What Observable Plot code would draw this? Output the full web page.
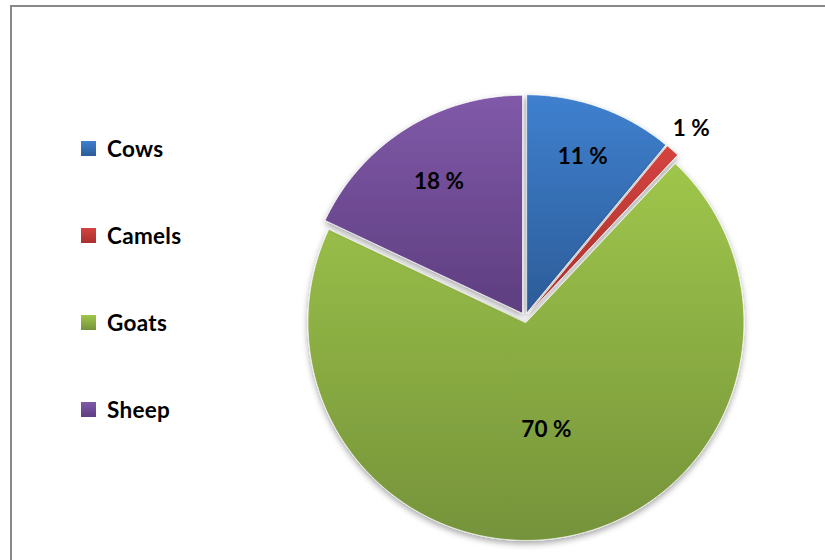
<!DOCTYPE html>
<html>
<head>
<meta charset="utf-8">
<script src="https://cdn.jsdelivr.net/npm/d3@7"></script>
<script src="https://cdn.jsdelivr.net/npm/@observablehq/plot@0.6"></script>
<style>
  body { margin: 0; background: #fff; }
  #wrap { position: relative; width: 825px; height: 560px; overflow: hidden; font-family: Lato, "Open Sans", sans-serif; }
  #frame { position: absolute; left: 10px; top: 5px; width: 900px; height: 700px; border-left: 2px solid #888; border-top: 2px solid #888; }
  #chart { position: absolute; left: 0; top: 0; }
  #legend { position: absolute; left: 81px; top: 141px; }
  .item { position: absolute; left: 0; height: 15px; white-space: nowrap; }
  .sw { position: absolute; left: 0; top: 0; width: 15px; height: 15px; }
  .lab { position: absolute; left: 26px; top: -6px; font-size: 22.5px; font-weight: bold; line-height: 28px; color: #000; letter-spacing: 0.3px; }
</style>
</head>
<body>
<div id="wrap">
  <div id="frame"></div>
  <div id="chart"></div>
  <div id="legend"></div>
</div>
<script>
// ---- data ----
const animals = ["Cows", "Camels", "Goats", "Sheep"];
const shares = [11, 1, 70, 18];
const colorTop = ["#3f80cf", "#d4443f", "#9fc64b", "#8059a8"];
const colorBottom = ["#2c5c98", "#a8302c", "#75933a", "#5e3e80"];

// ---- geometry ----
const total = d3.sum(shares);
const explode = 0.023;      // offset of each slice, as fraction of radius
const slices = [];
let acc = 0;
animals.forEach((name, i) => {
  const a0 = acc / total * 2 * Math.PI;
  acc += shares[i];
  const a1 = acc / total * 2 * Math.PI;
  const mid = (a0 + a1) / 2;
  slices.push({name, i, value: shares[i], a0, a1, mid,
    ox: explode * Math.sin(mid), oy: explode * Math.cos(mid)});
});

const points = [];
slices.forEach(s => {
  points.push({name: s.name, x: s.ox, y: s.oy});
  const n = Math.max(4, Math.ceil((s.a1 - s.a0) / (Math.PI / 180)));
  for (let k = 0; k <= n; k++) {
    const a = s.a0 + (s.a1 - s.a0) * k / n;
    points.push({name: s.name, x: s.ox + Math.sin(a), y: s.oy + Math.cos(a)});
  }
});

const labels = slices.map(s => {
  const p = s.value / total;
  const f = p < 0.05 ? 1.13 : (p > 0.5 ? 0.5 : 0.83 - 0.65 * p);
  return {text: Math.round(s.value) + " %", x: s.ox + f * Math.sin(s.mid), y: s.oy + f * Math.cos(s.mid)};
});

const cx = 524.5, cy = 317, r = 218;

const marks = slices.map(s => Plot.line(points.filter(p => p.name === s.name), {
  x: "x", y: "y", curve: "linear-closed",
  fill: `url(#grad${s.i})`, stroke: "#ffffff", strokeWidth: 1, strokeOpacity: 0.7
}));
marks.push(Plot.text(labels, {
  x: "x", y: "y", text: "text", fontSize: 22.5, fontWeight: "bold", fill: "#000",
  textAnchor: "middle", lineAnchor: "middle"
}));

const plot = Plot.plot({
  width: 825, height: 560, margin: 0,
  style: {background: "transparent", fontFamily: "Lato, 'Open Sans', sans-serif"},
  x: {domain: [-1, 1], range: [cx - r, cx + r], axis: null},
  y: {domain: [-1, 1], range: [cy + r, cy - r], axis: null},
  marks
});

// gradients + soft shadow
const svg = d3.select(plot);
const defs = svg.insert("defs", ":first-child");
slices.forEach(s => {
  const g = defs.append("linearGradient").attr("id", `grad${s.i}`)
    .attr("x1", 0).attr("y1", 0).attr("x2", 0).attr("y2", 1);
  g.append("stop").attr("offset", "0%").attr("stop-color", colorTop[s.i]);
  g.append("stop").attr("offset", "100%").attr("stop-color", colorBottom[s.i]);
});
const f = defs.append("filter").attr("id", "shadow").attr("x", "-20%").attr("y", "-20%").attr("width", "140%").attr("height", "140%");
f.append("feDropShadow").attr("dx", 0).attr("dy", 3).attr("stdDeviation", 3).attr("flood-color", "#000").attr("flood-opacity", 0.35);
svg.selectAll("g[aria-label='line']").attr("filter", "url(#shadow)");

document.getElementById("chart").appendChild(plot);

// legend
const legend = document.getElementById("legend");
animals.forEach((name, i) => {
  const item = document.createElement("div");
  item.className = "item";
  item.style.top = (i * 87) + "px";
  item.innerHTML = `<div class="sw" style="background:linear-gradient(${colorTop[i]}, ${colorBottom[i]})"></div><div class="lab">${name}</div>`;
  legend.appendChild(item);
});
</script>
</body>
</html>
